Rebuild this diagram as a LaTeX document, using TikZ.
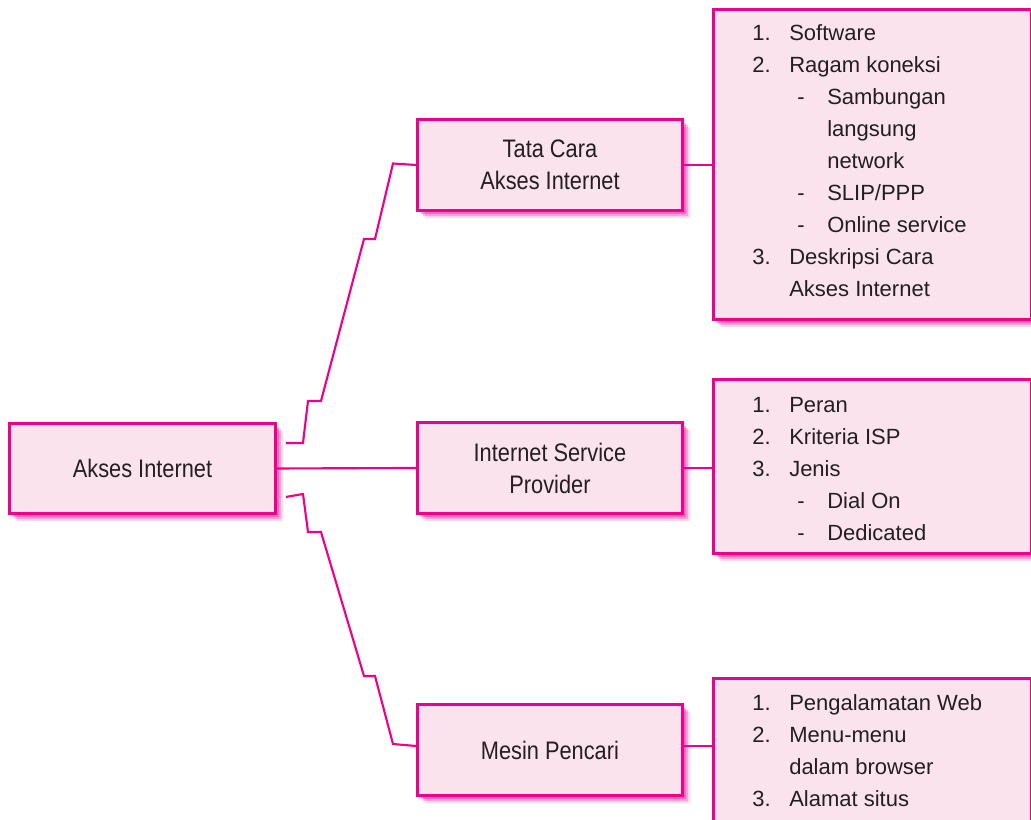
\documentclass[tikz,border=0pt]{standalone}
\usepackage{fontspec}
\setmainfont{Liberation Sans}
\newfontfamily\midfont{Liberation Sans}[FakeStretch=0.86]
\usetikzlibrary{shadows,calc}
\definecolor{mag}{HTML}{EC008C}
\definecolor{boxfill}{HTML}{FBE3EE}
\definecolor{txt}{HTML}{231F20}
\newcommand{\itm}[2]{\makebox[27.75pt][l]{#1}#2}
\newcommand{\subitm}[1]{\hspace*{33.75pt}\makebox[22.5pt][l]{-}#1}
\newcommand{\subcont}[1]{\hspace*{56.25pt}#1}
\newcommand{\itmcont}[1]{\hspace*{27.75pt}#1}
\tikzset{
  box/.style={draw=mag, line width=2.2pt, fill=boxfill, text=txt, inner sep=0pt,
    general shadow={fill=mag, opacity=0.15, shadow xshift=5.5pt, shadow yshift=-5.5pt},
    general shadow={fill=mag, opacity=0.25, shadow xshift=4pt, shadow yshift=-4pt},
    general shadow={fill=mag, opacity=0.35, shadow xshift=2.5pt, shadow yshift=-2.5pt}},
  midbox/.style={box, minimum width=198.75pt, minimum height=68.25pt, anchor=north west,
    align=center, font=\midfont\fontsize{19pt}{24pt}\selectfont},
  listbox/.style={box, minimum width=238.5pt, anchor=north west},
  listtext/.style={anchor=base west, inner sep=0pt, align=left, text=txt,
    font=\fontsize{16.5pt}{24pt}\selectfont},
  conn/.style={draw=mag, line width=1.6pt, line join=miter}
}
\begin{document}
\begin{tikzpicture}[x=0.75pt, y=-0.75pt]
\useasboundingbox (0,0) rectangle (1031,819);
% left box
\node[midbox, minimum width=199.5pt, minimum height=67.5pt] (akses) at (8,422) {Akses Internet};
% middle boxes
\node[midbox] (tata) at (416,118) {Tata Cara\\Akses Internet};
\node[midbox] (isp) at (416,421) {Internet Service\\Provider};
\node[midbox] (mesin) at (416,703) {Mesin Pencari};
% right boxes
\node[listbox, minimum height=232.5pt] (r1) at (712,8) {};
\node[listbox, minimum height=130.5pt] (r2) at (712,378) {};
\node[listbox, minimum height=118.5pt] (r3) at (712,677) {};
% list texts (anchored at the baseline of their last line)
\node[listtext] (t1) at (752,296) {\itm{1.}{Software}\\\itm{2.}{Ragam koneksi}\\\subitm{Sambungan}\\\subcont{langsung}\\\subcont{network}\\\subitm{SLIP/PPP}\\\subitm{Online service}\\\itm{3.}{Deskripsi Cara}\\\itmcont{Akses Internet}};
\node[listtext] (t2) at (752,540) {\itm{1.}{Peran}\\\itm{2.}{Kriteria ISP}\\\itm{3.}{Jenis}\\\subitm{Dial On}\\\subitm{Dedicated}};
\node[listtext] (t3) at (752,806) {\itm{1.}{Pengalamatan Web}\\\itm{2.}{Menu-menu}\\\itmcont{dalam browser}\\\itm{3.}{Alamat situs}};
% connectors
\coordinate (ta) at ($(akses.north east)+(9,21)$);
\coordinate (ba) at ($(akses.south east)+(9,-18)$);
\coordinate (me) at ($(mesin.west)+(0,-4)$);
\coordinate (mr) at ($(mesin.east)+(0,-4)$);
\draw[conn] (ta) -- (303,443) -- (308,401) -- (321,401) -- (364,239) -- (375,239) -- (393,163.5) -- (tata.west);
\draw[conn] (ba) -- (303,494) -- (308,532) -- (321,532) -- (364,676) -- (375,676) -- (393,744) -- (me);
\draw[conn] (akses.east) -- (isp.west);
\draw[conn] (tata.east) -- (tata.east -| r1.west);
\draw[conn] (isp.east) -- (isp.east -| r2.west);
\draw[conn] (mr) -- (mr -| r3.west);
\end{tikzpicture}
\end{document}
